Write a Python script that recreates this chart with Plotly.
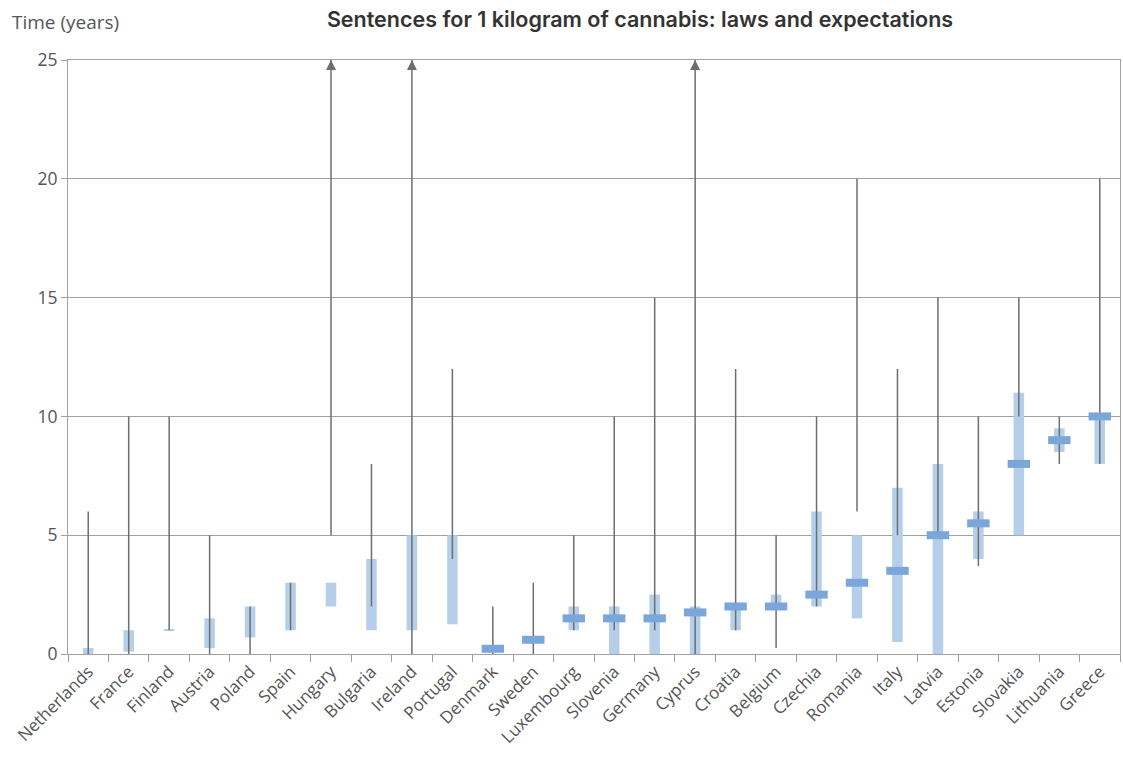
import plotly.graph_objects as go

countries = ["Netherlands", "France", "Finland", "Austria", "Poland", "Spain", "Hungary",
             "Bulgaria", "Ireland", "Portugal", "Denmark", "Sweden", "Luxembourg", "Slovenia",
             "Germany", "Cyprus", "Croatia", "Belgium", "Czechia", "Romania", "Italy", "Latvia",
             "Estonia", "Slovakia", "Lithuania", "Greece"]

# legal sentence range (years); open_ended marks a maximum beyond the axis
legal_min = [0, 0, 1, 0, 0, 1, 5, 2, 0, 4, 0, 0, 1, 1, 1, 0, 1, 0.25, 2, 6, 5, 5, 3.7, 10, 8, 8]
legal_max = [6, 10, 10, 5, 2, 3, 25, 8, 25, 12, 2, 3, 5, 10, 15, 25, 12, 5, 10, 20, 12, 15, 10, 15, 10, 20]
open_ended = [False, False, False, False, False, False, True, False, True, False, False, False, False,
              False, False, True, False, False, False, False, False, False, False, False, False, False]

# expected sentence range (years)
exp_min = [0, 0.1, 1.0, 0.25, 0.7, 1, 2, 1, 1, 1.25, None, None, 1, 0, 0, 0, 1, 1.9, 2, 1.5, 0.5, 0, 4, 5, 8.5, 8]
exp_max = [0.25, 1, 1.05, 1.5, 2, 3, 3, 4, 5, 5, None, None, 2, 2, 2.5, 2, 2, 2.5, 6, 5, 7, 8, 6, 11, 9.5, 10]

# typical expected sentence (years)
typical = [None, None, None, None, None, None, None, None, None, None, 0.22, 0.6, 1.5, 1.5, 1.5,
           1.75, 2, 2, 2.5, 3, 3.5, 5, 5.5, 8, 9, 10]

y_ticks = [0, 5, 10, 15, 20, 25]

LINE_GRAY = "#6e6e6e"
GRID = "#a0a0a0"
TEXT = "#555555"
BAR_BLUE = "#b5cfeb"
MARK_BLUE = "#7aa6da"
FONT = "Open Sans, Roboto, sans-serif"

fig = go.Figure()

# expected range bars
bx, bbase, bh = [], [], []
for c, lo, hi in zip(countries, exp_min, exp_max):
    if lo is None:
        continue
    bx.append(c)
    bbase.append(lo)
    bh.append(hi - lo)
fig.add_trace(go.Bar(x=bx, y=bh, base=bbase, width=0.26, marker=dict(color=BAR_BLUE, line=dict(width=0)),
                     hoverinfo="skip", showlegend=False))

# legal range lines
lx, ly = [], []
for c, lo, hi in zip(countries, legal_min, legal_max):
    lx += [c, c, None]
    ly += [lo, hi, None]
fig.add_trace(go.Scatter(x=lx, y=ly, mode="lines", line=dict(color=LINE_GRAY, width=1.5),
                         hoverinfo="skip", showlegend=False))

# arrow heads for open-ended maxima
ax_ = [c for c, o in zip(countries, open_ended) if o]
ay_ = [hi for hi, o in zip(legal_max, open_ended) if o]
fig.add_trace(go.Scatter(x=ax_, y=ay_, mode="markers",
                         marker=dict(symbol="arrow-up", size=10, color=LINE_GRAY, line=dict(width=0)),
                         hoverinfo="skip", showlegend=False, cliponaxis=False))

# typical sentence markers
tx = [c for c, t in zip(countries, typical) if t is not None]
ty = [t for t in typical if t is not None]
fig.add_trace(go.Scatter(x=tx, y=ty, mode="markers",
                         marker=dict(symbol="line-ew", size=16,
                                     line=dict(color=MARK_BLUE, width=8)),
                         hoverinfo="skip", showlegend=False, cliponaxis=False))

fig.update_layout(
    width=1123, height=757,
    margin=dict(l=68, r=3, t=60, b=103),
    paper_bgcolor="white", plot_bgcolor="white",
    barmode="overlay",
    font=dict(family=FONT, color=TEXT, size=16),
    title=dict(text="Sentences for 1 kilogram of cannabis: laws and expectations",
               x=640 / 1123, xanchor="center", xref="container", y=1 - 19 / 757, yanchor="middle",
               yref="container",
               font=dict(size=21.5, color="#333333", family="Inter, Open Sans, sans-serif", weight=600)),
    xaxis=dict(type="category", categoryorder="array", categoryarray=countries,
               range=[-0.5, len(countries) - 0.5],
               showgrid=False, showline=True, linecolor=GRID, linewidth=1.2, mirror=True,
               ticks="outside", tickson="boundaries", ticklen=7, tickcolor=GRID, tickwidth=1.2,
               tickangle=-45, tickfont=dict(size=17, color=TEXT), zeroline=False),
    yaxis=dict(range=[0, 25], tickvals=y_ticks, showgrid=True, gridcolor=GRID, gridwidth=1.2,
               showline=True, linecolor=GRID, linewidth=1.2, mirror=True,
               ticks="outside", ticklen=6, tickcolor=GRID, tickwidth=1.2,
               tickfont=dict(size=17.5, color=TEXT), zeroline=False),
    annotations=[dict(text="Time (years)", x=(10 - 68) / 1052, xref="paper", xanchor="left",
                      y=(654 - 22) / 594, yref="paper", yanchor="middle", showarrow=False,
                      font=dict(size=19, color=TEXT))],
)

fig.write_html("out.html", config={"displayModeBar": False},
               post_script="document.body.style.margin='0px';document.body.style.overflow='hidden';")
